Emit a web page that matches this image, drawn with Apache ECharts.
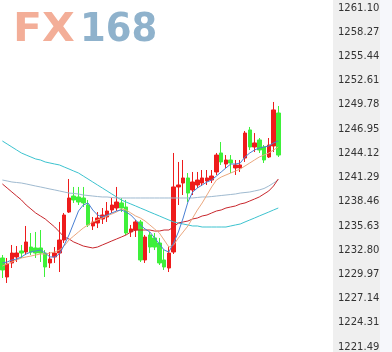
<!DOCTYPE html>
<html>
<head>
<meta charset="utf-8">
<script src="https://cdn.jsdelivr.net/npm/echarts@6/dist/echarts.min.js"></script>
<style>
html,body{margin:0;padding:0;background:#fff;}
#chart{width:392px;height:352px;}
</style>
</head>
<body>
<div id="chart"></div>
<script>
// ---- data ----
const slotCount = 70; // visible category slots (candles occupy the first ones)
const categories = Array.from({length: slotCount}, (_, i) => String(i + 1));

// [open, close, low, high]
const candles = [
  [1231.89,1230.49,1229.55,1232.24],
  [1229.67,1231.19,1228.97,1231.89],
  [1231.31,1232.47,1230.72,1233.41],
  [1232.01,1232.47,1231.42,1233.29],
  [1232.71,1232.47,1231.89,1233.41],
  [1232.59,1233.76,1232.24,1235.63],
  [1233.17,1232.59,1232.24,1234.81],
  [1233.06,1232.47,1231.89,1234.93],
  [1233.06,1232.47,1231.42,1235.16],
  [1232.47,1230.84,1229.67,1232.82],
  [1231.31,1231.77,1230.72,1232.59],
  [1232.01,1232.47,1231.31,1233.17],
  [1232.47,1233.99,1230.25,1236.10],
  [1233.99,1236.91,1233.64,1237.15],
  [1237.26,1238.90,1237.15,1241.12],
  [1239.13,1238.67,1238.32,1240.19],
  [1239.02,1238.43,1238.08,1240.19],
  [1238.90,1238.32,1237.85,1240.19],
  [1238.08,1235.75,1235.51,1238.67],
  [1235.63,1236.10,1235.16,1236.68],
  [1235.98,1236.56,1235.39,1237.26],
  [1236.45,1236.91,1235.86,1237.73],
  [1236.68,1237.38,1236.10,1238.43],
  [1237.50,1238.08,1237.15,1238.90],
  [1237.73,1238.43,1237.38,1240.19],
  [1238.32,1237.73,1237.26,1238.90],
  [1237.85,1234.81,1234.58,1238.67],
  [1234.93,1235.28,1234.34,1235.75],
  [1235.16,1236.10,1234.34,1236.33],
  [1236.10,1231.66,1231.42,1236.33],
  [1231.66,1234.34,1231.31,1234.58],
  [1234.58,1233.17,1232.47,1234.93],
  [1234.23,1233.17,1232.82,1234.81],
  [1233.64,1231.31,1231.07,1234.23],
  [1231.66,1230.84,1230.49,1232.82],
  [1230.72,1232.47,1230.25,1233.17],
  [1232.59,1240.19,1232.36,1244.16],
  [1240.19,1240.42,1238.08,1243.11],
  [1240.65,1241.24,1239.25,1243.34],
  [1241.24,1239.48,1238.43,1241.82],
  [1239.84,1240.77,1239.25,1241.94],
  [1240.42,1241.00,1240.07,1241.94],
  [1240.65,1241.24,1240.30,1242.17],
  [1240.89,1241.24,1240.42,1242.17],
  [1241.00,1241.47,1240.65,1242.17],
  [1241.94,1243.92,1241.59,1244.16],
  [1244.16,1243.11,1242.76,1245.44],
  [1242.87,1243.34,1242.41,1243.92],
  [1243.34,1242.99,1241.82,1243.92],
  [1242.41,1242.76,1241.59,1243.34],
  [1242.41,1242.76,1241.94,1243.34],
  [1243.57,1246.49,1243.11,1246.73],
  [1246.85,1244.86,1244.51,1247.20],
  [1244.86,1245.33,1244.27,1246.49],
  [1245.68,1244.51,1244.16,1245.91],
  [1244.86,1243.34,1242.99,1245.09],
  [1243.69,1245.09,1243.57,1245.91],
  [1244.98,1249.19,1244.27,1250.12],
  [1248.83,1243.92,1243.69,1249.65]
];

const maBlue = [1231.31,1231.42,1231.66,1231.77,1232.01,1232.36,1232.59,1232.71,1232.82,1232.47,
  1232.01,1232.01,1232.36,1233.41,1234.58,1235.98,1237.38,1238.08,1238.32,1237.50,
  1236.91,1236.68,1236.91,1237.15,1237.38,1237.50,1237.26,1236.91,1236.33,1235.75,
  1235.28,1234.93,1234.23,1233.53,1232.82,1232.59,1233.64,1234.93,1236.56,1238.43,
  1239.60,1240.07,1240.42,1240.77,1241.00,1241.47,1241.94,1242.41,1242.87,1242.87,
  1242.99,1243.69,1244.16,1244.51,1244.74,1244.86,1244.98,1245.33,1245.56];

const maOrange = [1230.95,1231.19,1231.42,1231.66,1231.89,1232.01,1232.12,1232.24,1232.36,1232.36,
  1232.47,1232.59,1232.82,1233.29,1233.99,1234.46,1234.93,1235.39,1235.75,1236.10,
  1236.33,1236.56,1236.80,1237.03,1237.26,1237.62,1237.50,1237.15,1236.80,1236.56,
  1236.21,1235.75,1235.28,1234.81,1233.99,1233.17,1233.41,1234.23,1234.93,1235.63,
  1236.56,1237.50,1238.32,1239.25,1240.19,1241.00,1241.35,1241.59,1241.82,1242.05,
  1242.29,1242.64,1242.99,1243.34,1243.69,1243.92,1244.16,1244.51,1244.86];

const maRed = [1240.54,1240.07,1239.60,1239.13,1238.67,1238.08,1237.62,1237.15,1236.80,1236.45,
  1235.98,1235.51,1234.93,1234.34,1234.11,1233.76,1233.53,1233.29,1233.17,1233.06,
  1233.17,1233.41,1233.64,1233.88,1234.11,1234.34,1234.58,1234.93,1235.16,1235.16,
  1235.16,1235.16,1235.04,1235.04,1235.16,1235.16,1235.51,1235.98,1236.10,1236.21,
  1236.45,1236.56,1236.80,1236.91,1237.15,1237.38,1237.50,1237.73,1237.85,1237.97,
  1238.20,1238.32,1238.55,1238.78,1239.02,1239.37,1239.72,1240.30,1241.12];

const maGrey = [1241.00,1240.89,1240.77,1240.71,1240.65,1240.54,1240.42,1240.30,1240.19,1240.07,
  1239.95,1239.84,1239.72,1239.60,1239.48,1239.43,1239.37,1239.25,1239.19,1239.13,
  1239.07,1239.02,1239.02,1238.96,1238.90,1238.90,1238.90,1238.90,1238.90,1238.90,
  1238.90,1238.90,1238.90,1238.90,1238.90,1238.90,1238.90,1238.90,1238.90,1238.90,
  1238.90,1238.96,1239.02,1239.02,1239.07,1239.13,1239.19,1239.25,1239.31,1239.37,
  1239.48,1239.54,1239.60,1239.72,1239.84,1240.01,1240.30,1240.65,1241.00];

const maCyan = [1245.56,1245.21,1244.86,1244.51,1244.16,1243.92,1243.69,1243.46,1243.34,1243.11,
  1242.99,1242.87,1242.76,1242.52,1242.29,1242.05,1241.82,1241.47,1241.12,1240.77,
  1240.42,1240.07,1239.72,1239.37,1239.02,1238.67,1238.43,1238.20,1237.97,1237.73,
  1237.50,1237.26,1237.03,1236.80,1236.56,1236.33,1236.10,1235.98,1235.86,1235.75,
  1235.63,1235.63,1235.51,1235.51,1235.51,1235.51,1235.51,1235.51,1235.63,1235.75,
  1235.86,1236.10,1236.33,1236.56,1236.80,1237.03,1237.26,1237.50,1237.73];

const yTickLabels = ['1221.49','1224.31','1227.14','1229.97','1232.80','1235.63','1238.46',
  '1241.29','1244.12','1246.95','1249.78','1252.61','1255.44','1258.27','1261.10'];
const yMin = 1221.49;
const yMax = 1261.10;

// ---- chart ----
const yStep = (yMax - yMin) / (yTickLabels.length - 1);
const chart = echarts.init(document.getElementById('chart'), null, {renderer: 'canvas'});
const lineSeries = (data, color) => ({
  type: 'line', data: data, symbol: 'none', smooth: false, silent: true,
  lineStyle: {color: color, width: 1}, z: 3
});
chart.setOption({
  animation: false,
  backgroundColor: '#ffffff',
  graphic: [
    {type: 'rect', left: 333, top: 0, z: -10, shape: {width: 47, height: 352}, style: {fill: '#efefef'}},
    {type: 'rect', left: 380, top: 0, z: -10, shape: {width: 12, height: 352}, style: {fill: '#f6f7fb'}},
    {type: 'text', x: 13, y: 11, scaleX: 1.09, z: 10,
      style: {text: 'FX', fill: '#f3ae98', font: 'bold 39px "DejaVu Sans"', align: 'left', verticalAlign: 'top'}},
    {type: 'text', x: 80, y: 11, scaleX: 0.95, z: 10,
      style: {text: '168', fill: '#8fb2cc', font: 'bold 39px "DejaVu Sans"', align: 'left', verticalAlign: 'top'}}
  ],
  grid: {left: 0, right: 59, top: 8, bottom: 5, containLabel: false},
  xAxis: {
    type: 'category', data: categories, boundaryGap: true,
    axisLine: {show: false}, axisTick: {show: false}, axisLabel: {show: false}, splitLine: {show: false}
  },
  yAxis: {
    type: 'value', position: 'right', scale: true,
    min: yMin, max: yMax, interval: yStep,
    axisLine: {show: false}, axisTick: {show: false}, splitLine: {show: false},
    axisLabel: {
      margin: 5, color: '#333', fontSize: 10, fontFamily: '"DejaVu Sans"',
      formatter: v => { const k = Math.round((v - yMin) / yStep); return yTickLabels[k] || ''; }
    }
  },
  series: [
    {
      type: 'candlestick', data: candles, barWidth: 4, z: 2,
      itemStyle: {color: '#ee1c1c', color0: '#3ef03a', borderColor: '#ee1c1c', borderColor0: '#3ef03a', borderWidth: 1}
    },
    lineSeries(maCyan, '#3cc3cf'),
    lineSeries(maGrey, '#9fbad0'),
    lineSeries(maRed, '#c8262c'),
    lineSeries(maOrange, '#eba77e'),
    lineSeries(maBlue, '#4a80d4')
  ]
});
</script>
</body>
</html>
